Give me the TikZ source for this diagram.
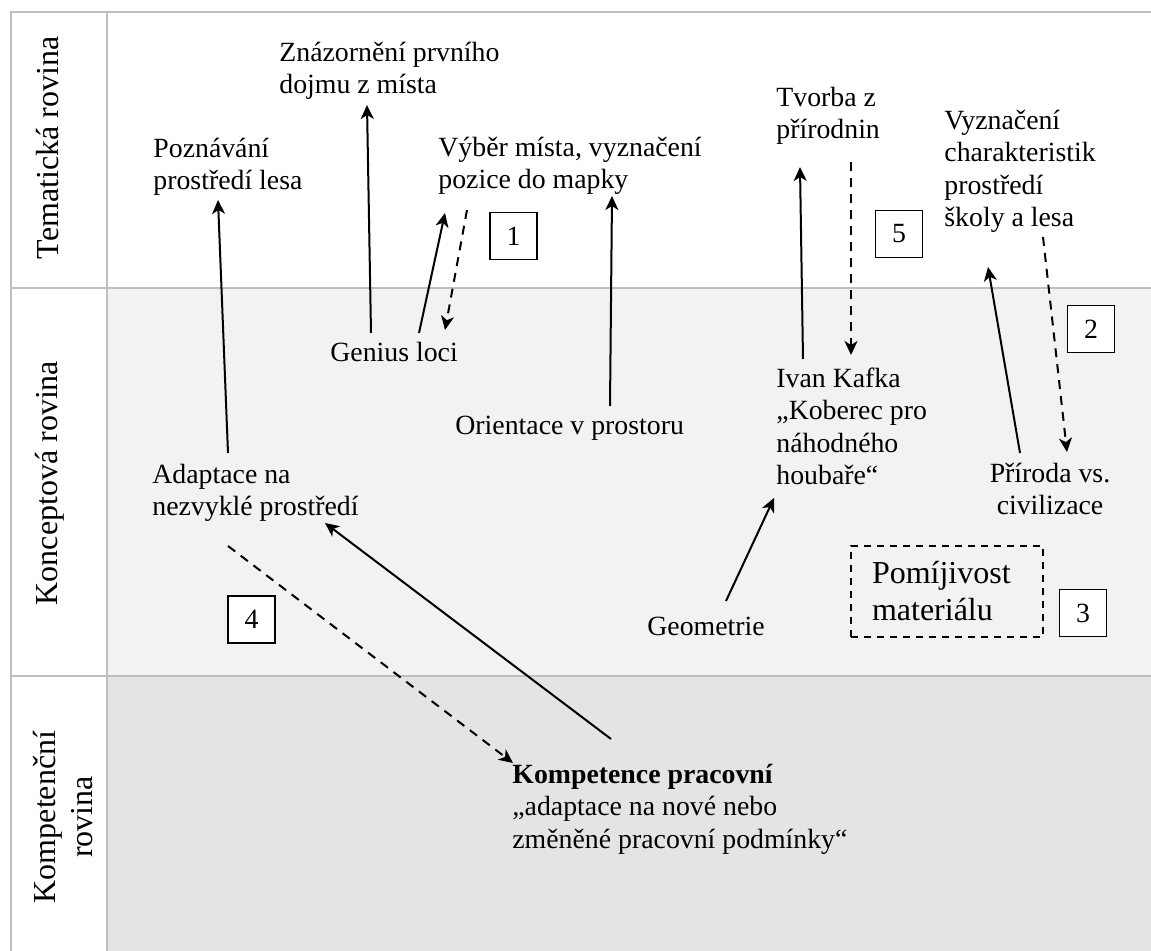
\documentclass[tikz,border=0pt]{standalone}
\usepackage{fontspec}
\setmainfont{Liberation Serif}
\usetikzlibrary{arrows.meta,calc}
\definecolor{gridc}{HTML}{BFBFBF}
\definecolor{rowb}{HTML}{F2F2F2}
\definecolor{rowc}{HTML}{E4E4E4}
\tikzset{
  lbl/.style={anchor=base west, align=left, inner sep=0pt, font=\fontsize{13.9}{16.25}\selectfont},
  hdr/.style={anchor=base, rotate=90, align=center, inner sep=0pt, font=\fontsize{16}{18.5}\selectfont},
  numbox/.style={draw, fill=white, line width=0.8pt, minimum size=23.5pt, inner sep=0pt, font=\fontsize{13.9}{16}\selectfont},
  gridline/.style={draw=gridc, line width=0.85pt},
  conn/.style={line width=1pt, -{Stealth[length=7pt,width=6.5pt,inset=2pt]}},
  dconn/.style={conn, dash pattern=on 4.5pt off 3.5pt},
}
\begin{document}
\begin{tikzpicture}[x=0.5pt,y=-0.5pt]
\useasboundingbox (0,0) rectangle (1151,951);
% row fills
\fill[white] (0,0) rectangle (1151,951);
\fill[rowb] (107,288) rectangle (1151,676);
\fill[rowc] (107,676) rectangle (1151,951);
% table lines
\draw[gridline] (11,951) -- (11,12) -- (1151,12);
\draw[gridline] (107,12) -- (107,951);
\draw[gridline] (11,288) -- (1151,288);
\draw[gridline] (11,676) -- (1151,676);
% row headers (base = last line)
\node[hdr] (tem) at (58,148) {Tematická rovina};
\node[hdr] (konc) at (57,483) {Konceptová rovina};
\node[hdr] (kompr) at (92,817) {Kompetenční\\rovina};
% labels (base west = baseline of the last line)
\node[lbl] (znaz) at (279,94) {Znázornění prvního\\dojmu z místa};
\node[lbl] (pozn) at (153,190) {Poznávání\\prostředí lesa};
\node[lbl] (vyber) at (438,189) {Výběr místa, vyznačení\\pozice do mapky};
\node[lbl] (tvorba) at (776,139) {Tvorba z\\přírodnin};
\node[lbl] (vyzn) at (944,227) {Vyznačení\\charakteristik\\prostředí\\školy a lesa};
\node[lbl] (genius) at (330,362) {Genius loci};
\node[lbl] (orient) at (455,435) {Orientace v prostoru};
\node[lbl] (adapt) at (152,516) {Adaptace na\\nezvyklé prostředí};
\node[lbl] (kafka) at (776,485) {Ivan Kafka\\„Koberec pro\\náhodného\\houbaře“};
\node[lbl, anchor=base, align=center] (priroda) at (1050,515) {Příroda vs.\\civilizace};
\node[lbl] (geom) at (647,635) {Geometrie};
\node[lbl] (komp) at (512,848) {\textbf{Kompetence pracovní}\\„adaptace na nové nebo\\změněné pracovní podmínky“};
\node[draw, dash pattern=on 3.5pt off 3pt, line width=0.9pt, minimum width=96pt, minimum height=45.5pt,
      text width=75pt, inner xsep=10.5pt, align=left, font=\fontsize{16}{18.5}\selectfont] (pom) at (947,591.5) {Pomíjivost\\materiálu};
% number boxes
\node[numbox] (n1) at (513.5,236) {1};
\node[numbox] (n5) at (899,234) {5};
\node[numbox] (n2) at (1091,329) {2};
\node[numbox] (n3) at (1083,613) {3};
\node[numbox] (n4) at (251.5,619.5) {4};
% connectors
\draw[conn] ([shift={(76,-63)}]adapt.base west) -- ([shift={(65,10)}]pozn.base west);
\draw[conn] ([shift={(41,-29)}]genius.base west) -- ([shift={(88,11)}]znaz.base west);
\draw[conn] ([shift={(89,-29)}]genius.base west) -- ([shift={(7,24)}]vyber.base west);
\draw[dconn] ([shift={(29,21)}]vyber.base west) -- ([shift={(115,-32)}]genius.base west);
\draw[conn] ([shift={(155,-29)}]orient.base west) -- ([shift={(174,7)}]vyber.base west);
\draw[conn] ([shift={(27,-126)}]kafka.base west) -- ([shift={(24,28)}]tvorba.base west);
\draw[dconn] ([shift={(75,23)}]tvorba.base west) -- ([shift={(75,-130)}]kafka.base west);
\draw[conn] ([shift={(-30,-62)}]priroda.base) -- ([shift={(44,40)}]vyzn.base west);
\draw[dconn] ([shift={(99,10)}]vyzn.base west) -- ([shift={(17,-63)}]priroda.base);
\draw[conn] ([shift={(79,-34)}]geom.base west) -- ([shift={(-2,13)}]kafka.base west);
\draw[conn] ([shift={(99,-109)}]komp.base west) -- ([shift={(173,7)}]adapt.base west);
\draw[dconn] ([shift={(76,30)}]adapt.base west) -- ([shift={(1,-85)}]komp.base west);
\end{tikzpicture}
\end{document}
